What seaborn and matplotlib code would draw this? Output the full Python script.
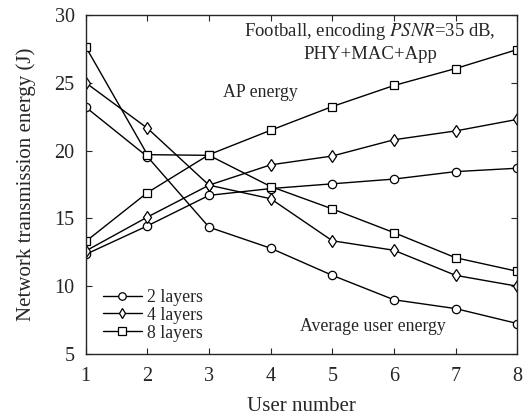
import matplotlib
matplotlib.use("Agg")
import matplotlib.pyplot as plt
import seaborn as sns
import numpy as np
import pandas as pd

# data
users = [1, 2, 3, 4, 5, 6, 7, 8]
layers = ['2 layers', '4 layers', '8 layers']

ap_2 = [12.35, 14.45, 16.7, 17.2, 17.55, 17.9, 18.45, 18.7]
ap_4 = [12.6, 15.1, 17.45, 18.95, 19.6, 20.8, 21.45, 22.3]
ap_8 = [13.3, 16.9, 19.7, 21.5, 23.25, 24.8, 26.05, 27.45]

user_2 = [23.2, 19.55, 14.35, 12.8, 10.8, 9.0, 8.35, 7.25]
user_4 = [25.0, 21.65, 17.45, 16.45, 13.35, 12.65, 10.8, 10.0]
user_8 = [27.65, 19.7, 19.65, 17.35, 15.7, 13.95, 12.1, 11.1]

rows = []
for kind, series in [('AP', [ap_2, ap_4, ap_8]), ('User', [user_2, user_4, user_8])]:
    for name, vals in zip(layers, series):
        for u, v in zip(users, vals):
            rows.append({'Kind': kind, 'Layers': name, 'User': u, 'Energy': v})
df = pd.DataFrame(rows)

sns.set_style("ticks")
plt.rcParams['font.family'] = ['Liberation Serif', 'DejaVu Serif']
plt.rcParams['mathtext.fontset'] = 'stix'

fig, ax = plt.subplots(figsize=(5.23, 4.16), dpi=100)
fig.subplots_adjust(left=0.164, right=0.989, top=0.964, bottom=0.149)

markers = {'2 layers': 'o', '4 layers': 'd', '8 layers': 's'}
for kind in ['AP', 'User']:
    sub = df[df['Kind'] == kind]
    sns.lineplot(data=sub, x='User', y='Energy', style='Layers', markers=markers,
                 dashes=False, color='black', linewidth=1.0, markersize=6,
                 markerfacecolor='white', markeredgecolor='black', markeredgewidth=0.9,
                 ax=ax, legend=(kind == 'AP'))

ax.set_xlim(1, 8)
ax.set_ylim(5, 30)
ax.set_xticks(users)
ax.set_yticks([5, 10, 15, 20, 25, 30])
ax.tick_params(direction='in', top=True, right=True, labelsize=14.5, length=4, width=0.8)
ax.tick_params(axis='y', pad=8)
ax.tick_params(axis='x', pad=9)
for s in ax.spines.values():
    s.set_linewidth(1.0)
ax.set_xlabel('User number', fontsize=15, labelpad=8)
ax.set_ylabel('Network transmission energy (J)', fontsize=15, labelpad=13)

ax.text(5.61, 28.75, 'Football, encoding $\\it{PSNR}$=35 dB,', ha='center', va='center', fontsize=13.5)
ax.text(5.61, 27.05, 'PHY+MAC+App', ha='center', va='center', fontsize=13.5)
ax.text(3.84, 24.3, 'AP energy', ha='center', va='center', fontsize=12.8)
ax.text(5.65, 7.0, 'Average user energy', ha='center', va='center', fontsize=12.8)

leg = ax.legend(loc='lower left', bbox_to_anchor=(0.01, 0.0), frameon=False, fontsize=12.8,
                handlelength=2.2, handletextpad=0.3, labelspacing=0.05, borderaxespad=0.3,
                markerscale=0.9)
leg.set_title(None)

fig.savefig('out.png', dpi=100)
